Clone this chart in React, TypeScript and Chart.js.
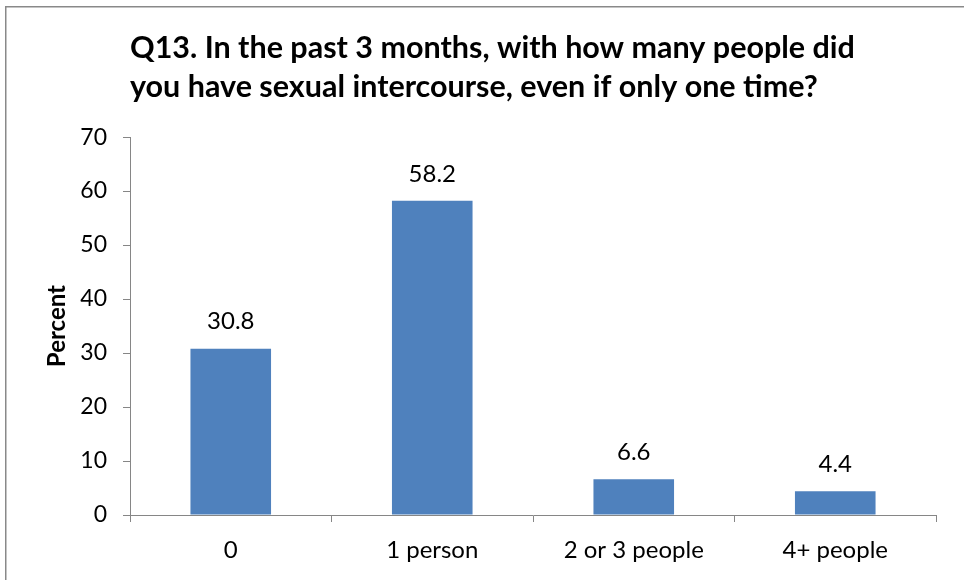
import React, { useEffect, useRef } from "react";
import { Chart, registerables } from "chart.js";

Chart.register(...registerables);

const categories = ["0", "1 person", "2 or 3 people", "4+ people"];
const percentValues = [30.8, 58.2, 6.6, 4.4];
const titleLines = [
  "Q13. In the past 3 months, with how many people did",
  "you have sexual intercourse, even if only one time?",
];
const yAxisTitle = "Percent";

const FONT = "Lato, 'Open Sans', sans-serif";
const AXIS_GRAY = "#868686";

const framePlugin = {
  id: "frame",
  beforeDraw(chart: any) {
    const ctx = chart.ctx;
    ctx.save();
    ctx.fillStyle = "#ffffff";
    ctx.fillRect(0, 0, chart.width, chart.height);
    ctx.strokeStyle = "#898989";
    ctx.lineWidth = 1.5;
    ctx.beginPath();
    ctx.moveTo(5.75, chart.height + 5);
    ctx.lineTo(5.75, 6.75);
    ctx.lineTo(chart.width + 5, 6.75);
    ctx.stroke();
    ctx.restore();
  },
};

const valueLabelPlugin = {
  id: "valueLabels",
  afterDatasetsDraw(chart: any) {
    const ctx = chart.ctx;
    const meta = chart.getDatasetMeta(0);
    const data = chart.data.datasets[0].data as number[];
    ctx.save();
    ctx.font = `24px ${FONT}`;
    ctx.fillStyle = "#000000";
    ctx.textAlign = "center";
    ctx.textBaseline = "middle";
    meta.data.forEach((bar: any, i: number) => {
      ctx.fillText(String(data[i]), bar.x, bar.y - 27);
    });
    ctx.restore();
  },
};

export default function App() {
  const canvasRef = useRef<HTMLCanvasElement | null>(null);

  useEffect(() => {
    if (!canvasRef.current) return;
    const chart = new Chart(canvasRef.current, {
      type: "bar",
      data: {
        labels: categories,
        datasets: [
          {
            data: percentValues,
            backgroundColor: "#4F81BD",
            borderWidth: 0,
            barPercentage: 0.4,
            categoryPercentage: 1,
          },
        ],
      },
      options: {
        responsive: false,
        animation: false,
        layout: { padding: { left: 0, right: 28, top: 0, bottom: 2 } },
        plugins: {
          legend: { display: false },
          tooltip: { enabled: false },
          title: {
            display: true,
            text: titleLines,
            align: "start",
            fullSize: false,
            color: "#000000",
            font: { family: FONT, size: 30.5, weight: "bold", lineHeight: 1.28 },
            padding: { top: 28.5, bottom: 30.5 },
          },
        },
        scales: {
          x: {
            grid: {
              display: true,
              offset: true,
              drawOnChartArea: false,
              drawTicks: true,
              tickLength: 7,
              color: AXIS_GRAY,
              tickColor: AXIS_GRAY,
            },
            border: { display: true, color: AXIS_GRAY, width: 1 },
            ticks: {
              color: "#000000",
              font: { family: FONT, size: 24 },
              padding: 13.6,
              maxRotation: 0,
            },
          },
          y: {
            min: 0,
            max: 70,
            afterFit(scale: any) {
              scale.width = 130;
            },
            ticks: {
              stepSize: 10,
              color: "#000000",
              font: { family: FONT, size: 23 },
              padding: 16,
            },
            grid: {
              display: true,
              drawOnChartArea: false,
              drawTicks: true,
              tickLength: 7,
              color: AXIS_GRAY,
              tickColor: AXIS_GRAY,
            },
            border: { display: true, color: AXIS_GRAY, width: 1 },
            title: {
              display: true,
              text: yAxisTitle,
              color: "#000000",
              font: { family: FONT, size: 24, weight: "bold" },
              padding: { top: 43, bottom: 0 },
            },
          },
        },
      },
      plugins: [framePlugin, valueLabelPlugin],
    });
    return () => chart.destroy();
  }, []);

  return (
    <div style={{ position: "fixed", left: 0, top: 0, width: 964, height: 580 }}>
      <canvas ref={canvasRef} width={964} height={580} style={{ display: "block" }} />
    </div>
  );
}
